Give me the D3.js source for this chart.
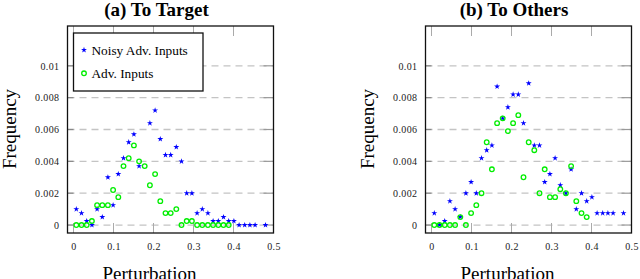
<!DOCTYPE html>
<html>
<head>
<meta charset="utf-8">
<script src="https://cdn.jsdelivr.net/npm/d3@7"></script>
<style>
html,body{margin:0;padding:0;background:#fff;}
svg{display:block;}
</style>
</head>
<body>
<svg id="chart" width="640" height="279"></svg>
<script>
// Bin centres of the perturbation histogram
const perturbation = [0.007,0.020,0.033,0.046,0.059,0.072,0.086,0.099,0.112,0.125,0.138,0.151,0.164,0.178,0.191,0.204,0.217,0.230,0.243,0.257,0.270,0.283,0.296,0.309,0.322,0.336,0.349,0.362,0.375,0.388,0.401,0.414,0.428,0.441,0.454,0.467,0.480];

// (a) To Target
const targetNoisy = [0.001,0.00075,0.00025,0,0.001,0.0005,0.003,0.00125,0.0032,0.0042,0.0052,0.0057,0.0037,null,0.0064,0.0072,0.0054,0.0044,0.0044,0.0049,0.004,0.002,0.002,0.00075,0.001,0.00075,0.00025,0.00025,0.0005,0.00025,0.00025,0,0,0,0,null,0];
const targetAdv = [0,0,0,0.00025,0.00125,0.00125,0.00125,0.0022,0.00175,0.0037,0.0042,0.005,0.004,0.0037,0.0025,0.0032,0.0015,0.00075,0.00075,0.001,0,0.00025,0.00025,0,0,0,0,0,0,0,null,null,null,null,null,null,null];

// (b) To Others
const othersNoisy = [0.00075,0,0.00025,0.0015,0.001,0.0005,0.002,0.0027,0.002,0.0042,0.0047,0.005,0.0087,0.0067,0.0074,0.0082,0.0082,0.0064,0.0089,0.005,0.005,0.0027,0.0032,0.0042,0.0025,0.002,0.0035,0.001,0.002,0.0015,0.00175,0.00075,0.00075,0.00075,0.00075,null,0.00075];
const othersAdv = [0,0,0,0,0,0.0005,0,0.00075,0.00125,0.002,0.0052,0.0035,0.0064,0.0067,0.0059,0.0064,0.0069,0.003,0.0052,0.0047,0.002,0.0035,0.00175,0.00175,0.00225,0.002,0.0037,0.0015,0.00075,0.0005,null,null,null,null,null,null,null];

const xTicks = [0,0.1,0.2,0.3,0.4,0.5];
const yTicks = [0,0.002,0.004,0.006,0.008,0.01];
const titles = ["(a) To Target","(b) To Others"];
const seriesNames = ["Noisy Adv. Inputs","Adv. Inputs"];
const xLabel = "Perturbation";
const yLabel = "Frequency";

const svg = d3.select("#chart");
const serif = "'Liberation Serif','DejaVu Serif',serif";
const BLUE = "#0000ff", GREEN = "#00ee00";

const panels = [
  {x0:67.5, title:titles[0], noisy:targetNoisy, adv:targetAdv, legend:true, titleX:156.5, yLabX:16},
  {x0:425.5, title:titles[1], noisy:othersNoisy, adv:othersAdv, legend:false, titleX:514, yLabX:374}
];
const W = 206, plotTop = 26, plotBottom = 233;

const star = d3.symbol().type(d3.symbolStar).size(11);

panels.forEach(p => {
  const g = svg.append("g");
  const x = d3.scaleLinear().domain([-0.015, 0.5]).range([p.x0, p.x0 + W]);
  const y = d3.scaleLinear().domain([-0.0005, 0.0125]).range([plotBottom, plotTop]);

  // dashed horizontal grid
  g.selectAll(".grid").data(yTicks).enter().append("line")
    .attr("x1", p.x0).attr("x2", p.x0 + W)
    .attr("y1", d => y(d)).attr("y2", d => y(d))
    .attr("stroke", "#c4c4c4").attr("stroke-width", 1.3)
    .attr("stroke-dasharray", "7,5");

  // inner tick marks (gray)
  xTicks.forEach(t => {
    g.append("line").attr("x1", x(t)).attr("x2", x(t)).attr("y1", plotBottom).attr("y2", plotBottom - 10)
      .attr("stroke", "#aaa").attr("stroke-width", 1);
    g.append("line").attr("x1", x(t)).attr("x2", x(t)).attr("y1", plotTop).attr("y2", plotTop + 10)
      .attr("stroke", "#aaa").attr("stroke-width", 1);
  });
  yTicks.forEach(t => {
    g.append("line").attr("x1", p.x0).attr("x2", p.x0 + 6).attr("y1", y(t)).attr("y2", y(t))
      .attr("stroke", "#888").attr("stroke-width", 1.2);
    g.append("line").attr("x1", p.x0 + W).attr("x2", p.x0 + W - 10).attr("y1", y(t)).attr("y2", y(t))
      .attr("stroke", "#999").attr("stroke-width", 1.2);
  });

  // axes tick labels via d3 axes
  const fmtY = d => d === 0 ? "0" : String(+d.toFixed(3));
  const fmtX = d => d === 0 ? "0" : String(+d.toFixed(1));
  const ax = g.append("g").attr("transform", `translate(0,${plotBottom})`)
    .call(d3.axisBottom(x).tickValues(xTicks).tickFormat(fmtX).tickSize(0).tickPadding(10));
  const ay = g.append("g").attr("transform", `translate(${p.x0},0)`)
    .call(d3.axisLeft(y).tickValues(yTicks).tickFormat(fmtY).tickSize(0).tickPadding(8));
  [ax, ay].forEach(a => {
    a.select(".domain").remove();
    a.selectAll("text").attr("font-family", serif).attr("font-size", 10)
      .attr("letter-spacing", 0.4).attr("fill", "#222");
  });

  // data points
  const noisyData = perturbation.map((v, i) => [v, p.noisy[i]]).filter(d => d[1] !== null);
  const advData = perturbation.map((v, i) => [v, p.adv[i]]).filter(d => d[1] !== null);
  g.selectAll(".noisy").data(noisyData).enter().append("path")
    .attr("d", star).attr("fill", BLUE)
    .attr("transform", d => `translate(${x(d[0])},${y(d[1])})`);
  g.selectAll(".adv").data(advData).enter().append("circle")
    .attr("cx", d => x(d[0])).attr("cy", d => y(d[1])).attr("r", 2.3)
    .attr("fill", "none").attr("stroke", GREEN).attr("stroke-width", 1.3);

  // frame
  g.append("rect").attr("x", p.x0).attr("y", plotTop).attr("width", W).attr("height", plotBottom - plotTop)
    .attr("fill", "none").attr("stroke", "#111").attr("stroke-width", 1.3);

  // title
  g.append("text").attr("x", p.titleX).attr("y", 16).attr("text-anchor", "middle")
    .attr("font-family", serif).attr("font-weight", "bold").attr("font-size", 19)
    .text(p.title);
  // axis labels
  g.append("text").attr("x", p.x0 + 82).attr("y", 280).attr("text-anchor", "middle")
    .attr("font-family", serif).attr("font-size", 19).text(xLabel);
  g.append("text").attr("transform", `translate(${p.yLabX},129) rotate(-90)`)
    .attr("text-anchor", "middle").attr("font-family", serif).attr("font-size", 19).text(yLabel);

  if (p.legend) {
    const lg = g.append("g");
    lg.append("rect").attr("x", 73.5).attr("y", 33).attr("width", 129.5).attr("height", 58)
      .attr("fill", "#fff").attr("stroke", "#111").attr("stroke-width", 1.3);
    lg.append("path").attr("d", star).attr("fill", BLUE).attr("transform", "translate(84,50)");
    lg.append("circle").attr("cx", 84).attr("cy", 73.3).attr("r", 2.3)
      .attr("fill", "none").attr("stroke", GREEN).attr("stroke-width", 1.3);
    lg.append("text").attr("x", 91.5).attr("y", 54.5).attr("font-family", serif).attr("font-size", 13.3)
      .text(seriesNames[0]);
    lg.append("text").attr("x", 91.5).attr("y", 77.5).attr("font-family", serif).attr("font-size", 13.3)
      .text(seriesNames[1]);
  }
});
</script>
</body>
</html>
